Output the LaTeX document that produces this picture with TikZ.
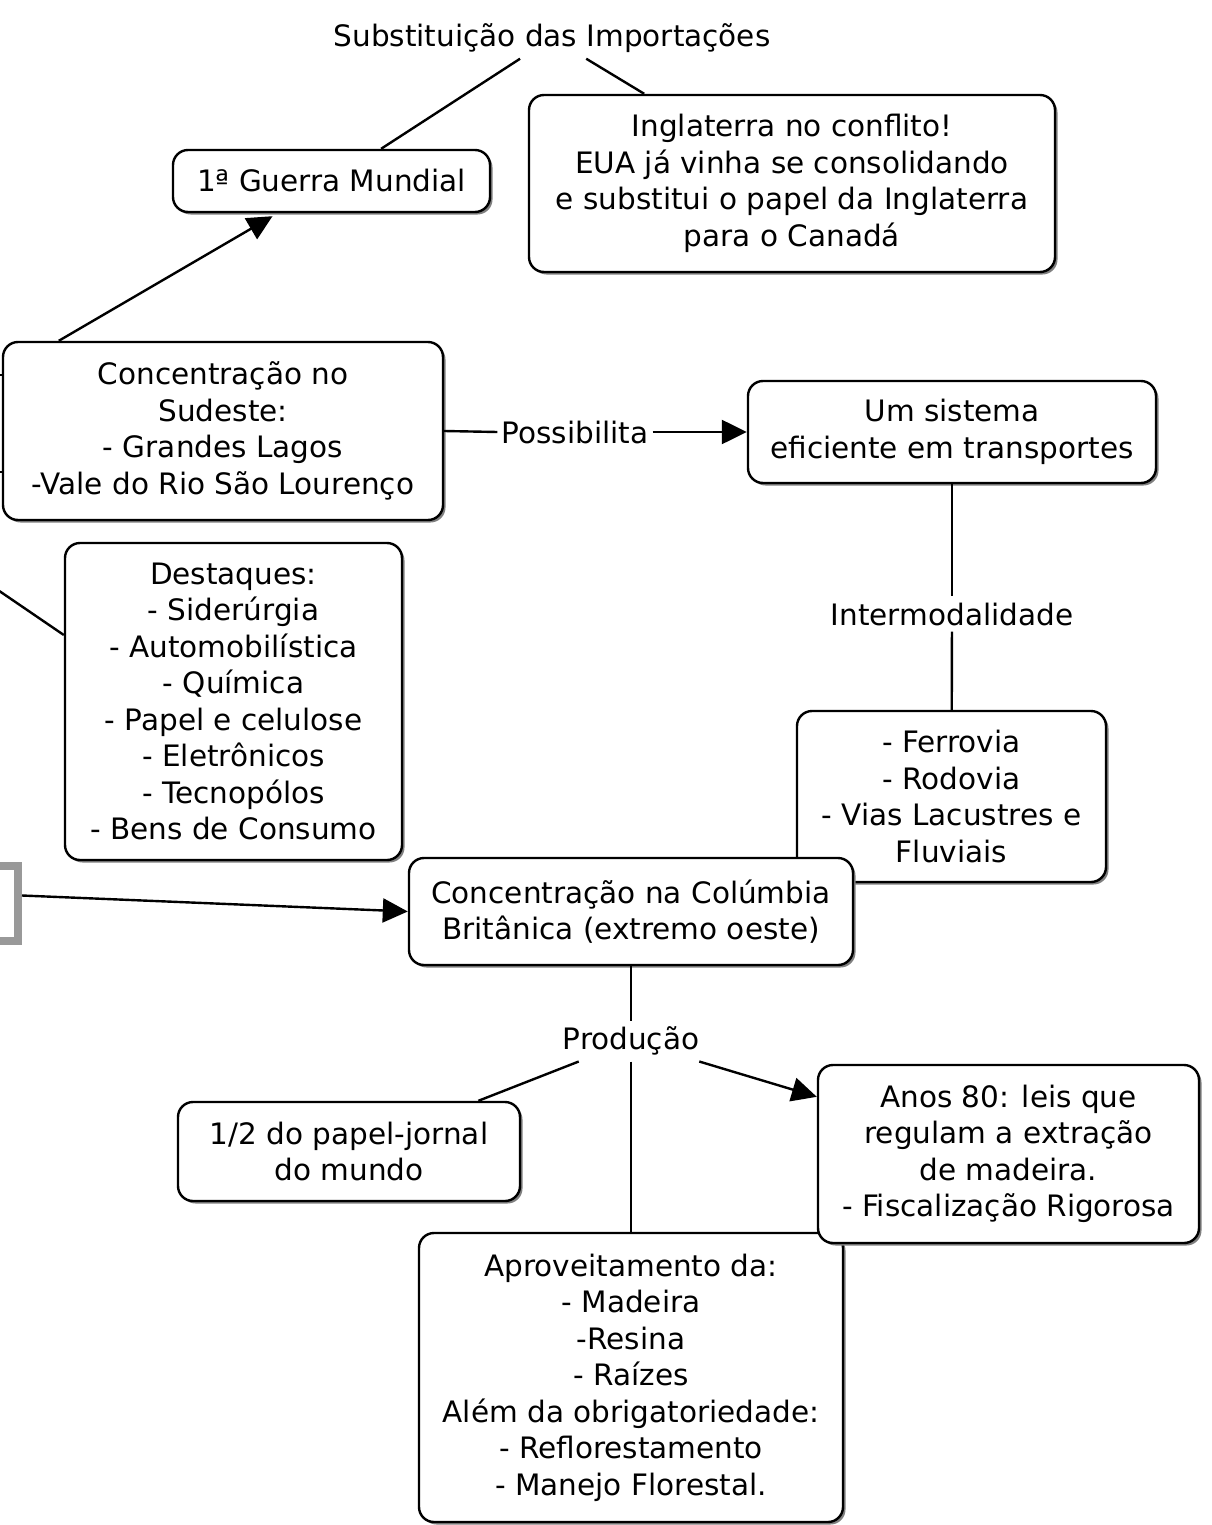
\documentclass[tikz,border=0pt]{standalone}
\usepackage{fontspec}
\setmainfont{DejaVu Sans}
\usetikzlibrary{arrows.meta,shadows,calc}
\newcommand\boxfont{\fontsize{29.5pt}{36.5pt}\selectfont}
\tikzset{
  box/.style={draw=black, line width=2.4pt, rounded corners=15pt, fill=white,
    align=center, font=\boxfont, inner sep=0pt,
    drop shadow={shadow xshift=2.5pt, shadow yshift=-2.5pt, fill=black!50, opacity=1}},
  lbl/.style={font=\boxfont, inner xsep=4pt, inner ysep=6pt},
  conn/.style={draw=black, line width=2.4pt},
  arr/.style={conn, -{Triangle[length=25pt,width=24pt]}}
}
\begin{document}
\begin{tikzpicture}[x=1pt,y=-1pt]
\useasboundingbox (0,0) rectangle (1211,1525);
\clip (0,0) rectangle (1211,1525);
\fill[white] (0,0) rectangle (1211,1525);

% nodes
\node[lbl] (subst) at (552,38) {Substituição das Importações};
\node[box, minimum width=317pt, minimum height=62pt] (guerra) at (331.5,181) {1ª Guerra Mundial};
\node[box, minimum width=526pt, minimum height=177pt] (ingl) at (792,183.5)
  {Inglaterra no conflito!\\EUA já vinha se consolidando\\e substitui o papel da Inglaterra\\para o Canadá};
\node[box, minimum width=440pt, minimum height=178pt] (sudeste) at (223,431)
  {Concentração no\\Sudeste:\\- Grandes Lagos\\-Vale do Rio São Lourenço};
\node[box, minimum width=408pt, minimum height=102pt] (sistema) at (952,432)
  {Um sistema\\eficiente em transportes};
\node[lbl] (poss) at (575,432) {Possibilita};
\node[lbl] (inter) at (952,614) {Intermodalidade};
\node[box, minimum width=337pt, minimum height=317pt] (destaques) at (233.5,701.5)
  {Destaques:\\- Siderúrgia\\- Automobilística\\- Química\\- Papel e celulose\\- Eletrônicos\\- Tecnopólos\\- Bens de Consumo};
\node[box, minimum width=309pt, minimum height=171pt] (ferrovia) at (951.5,796.5)
  {- Ferrovia\\- Rodovia\\- Vias Lacustres e\\Fluviais};
\node[box, minimum width=444pt, minimum height=107pt] (colum) at (631,911.5)
  {Concentração na Colúmbia\\Britânica (extremo oeste)};
\node[draw=black!40, line width=8pt, fill=white, minimum width=118pt, minimum height=75pt, inner sep=0pt] (prev) at (-41,903.5) {};
\node[lbl] (prod) at (631,1041) {Produção};
\node[box, minimum width=342pt, minimum height=99pt] (metade) at (349,1151.5)
  {1/2 do papel-jornal\\do mundo};
\node[box, minimum width=424pt, minimum height=289pt] (aprov) at (631,1377.5)
  {Aproveitamento da:\\- Madeira\\-Resina\\- Raízes\\Além da obrigatoriedade:\\- Reflorestamento\\- Manejo Florestal.};
\node[box, minimum width=381pt, minimum height=178pt] (anos) at (1008.5,1154)
  {Anos 80: leis que\\regulam a extração\\de madeira.\\- Fiscalização Rigorosa};

\coordinate (leftA) at (-10,375);
\coordinate (leftB) at (-10,472);
\coordinate (leftC) at (-8,586);

% connectors
\draw[conn] (subst) -- (guerra);
\draw[conn] (subst) -- (ingl);
\draw[arr] ([xshift=57pt]sudeste.north west) -- ([xshift=-59pt,yshift=-3pt]guerra.south);
\draw[conn] (sudeste.east) -- (poss.west);
\draw[arr] (poss.east) -- (sistema.west);
\draw[conn] (sistema) -- (inter);
\draw[conn] (inter) -- (ferrovia);
\draw[conn] (leftA) -- ([yshift=56pt]sudeste.west);
\draw[conn] (leftB) -- ([yshift=-41pt]sudeste.west);
\draw[conn] (leftC) -- ([yshift=66.5pt]destaques.west);
\draw[arr] ([yshift=8pt]prev.east) -- (colum.west);
\draw[conn] (colum) -- (prod);
\draw[conn] (prod) -- (aprov);
\draw[conn] (prod) -- (metade);
\draw[arr] (prod) -- (anos);
\end{tikzpicture}
\end{document}
